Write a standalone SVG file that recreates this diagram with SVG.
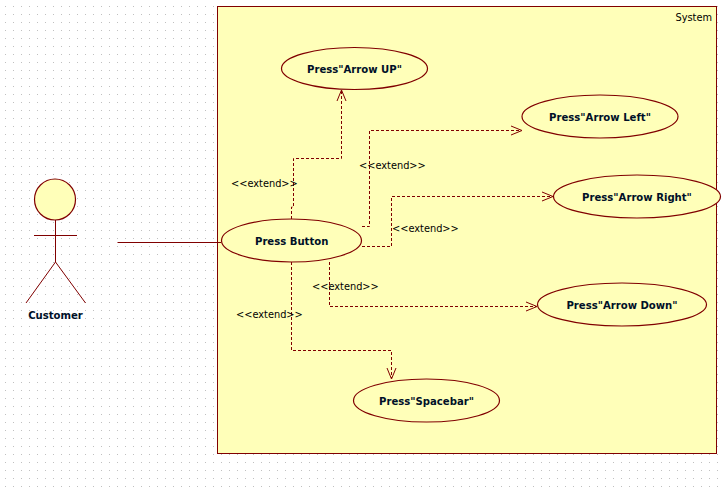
<svg xmlns="http://www.w3.org/2000/svg" width="725" height="488" viewBox="0 0 725 488">
<style>
.n{fill:#ffffb9;stroke:#800000;stroke-width:1.2}
.l{fill:none;stroke:#800000;stroke-width:1}
.d{fill:none;stroke:#800000;stroke-width:1;stroke-dasharray:3 2}
.a{fill:none;stroke:#800000;stroke-width:1}
text{font-family:"DejaVu Sans",Verdana,sans-serif;font-size:9.8px;fill:#000}
.b{font-size:10.1px;font-weight:bold;text-anchor:middle;fill:#001028}
</style>
<defs>
<pattern id="g" width="8" height="8" patternUnits="userSpaceOnUse"><rect x="5" y="6" width="1" height="1" fill="#c0c0c0"/></pattern>
</defs>
<rect width="725" height="488" fill="#fff"/>
<rect width="725" height="488" fill="url(#g)"/>
<g id="system"><rect x="217.500" y="6.500" width="499" height="447" fill="#ffffb9" stroke="#800000"/><text x="712" y="21" text-anchor="end">System</text></g>
<g id="connectors">
<path class="l" d="M117.500 242.500H221"/>
<path class="d" d="M291.500 219V207H293.500V158.500H341.500V90"/><path class="a" d="M337 101L341.500 90L346 101"/>
<path class="d" d="M362 226.500H369.500V130.500H521"/><path class="a" d="M511 126L522 130.500L511 135"/>
<path class="d" d="M362 246.500H391.500V196.500H552"/><path class="a" d="M542 192L553 196.500L542 201"/>
<path class="d" d="M329.500 262V306.500H536"/><path class="a" d="M526 302L537 306.500L526 311"/>
<path class="d" d="M291.500 262V350.500H391.500V378"/><path class="a" d="M387 368L391.500 379L396 368"/>
</g>
<g id="actor"><circle class="n" cx="55" cy="199.500" r="20.500"/><path class="l" d="M55.500 220V262M34 235.500H77M55.500 262L26 303M55.500 262L85.500 303"/><text class="b" x="55.500" y="319">Customer</text></g>
<g id="press-button"><ellipse class="n" cx="291.500" cy="240.500" rx="70" ry="21.500"/><text class="b" x="291.700" y="245">Press Button</text></g>
<g id="arrow-up"><ellipse class="n" cx="354.500" cy="68.500" rx="73" ry="21"/><text class="b" x="354.500" y="73">Press"Arrow UP"</text></g>
<g id="arrow-left"><ellipse class="n" cx="600" cy="116.500" rx="78" ry="21.500"/><text class="b" x="600" y="121">Press"Arrow Left"</text></g>
<g id="arrow-right"><ellipse class="n" cx="637" cy="196.500" rx="83.500" ry="21.500"/><text class="b" x="637" y="201">Press"Arrow Right"</text></g>
<g id="arrow-down"><ellipse class="n" cx="622" cy="304.500" rx="84.500" ry="21.500"/><text class="b" x="622" y="309">Press"Arrow Down"</text></g>
<g id="spacebar"><ellipse class="n" cx="426.500" cy="400.500" rx="73" ry="21.500"/><text class="b" x="426.500" y="405">Press"Spacebar"</text></g>
<g id="labels">
<text x="231" y="187">&lt;&lt;extend&gt;&gt;</text>
<text x="359" y="169">&lt;&lt;extend&gt;&gt;</text>
<text x="392" y="232">&lt;&lt;extend&gt;&gt;</text>
<text x="312" y="290">&lt;&lt;extend&gt;&gt;</text>
<text x="236" y="318">&lt;&lt;extend&gt;&gt;</text>
</g>
</svg>
